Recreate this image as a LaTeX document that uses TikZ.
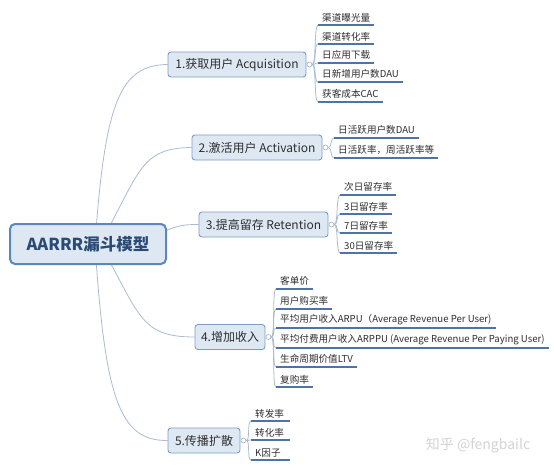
\documentclass[tikz,border=0pt]{standalone}
\usepackage{fontspec}
\newfontfamily\cjk{Noto Sans CJK SC}
\usetikzlibrary{backgrounds}
\definecolor{boxfill}{HTML}{DEE8F3}
\definecolor{boxline}{HTML}{7C9DC7}
\definecolor{rootline}{HTML}{5B86BE}
\definecolor{roottext}{HTML}{2B4A75}
\definecolor{connc}{HTML}{A9BCD2}
\definecolor{ulinec}{HTML}{4F74A3}
\definecolor{txt}{HTML}{2E2E2E}
\definecolor{wm}{HTML}{D4D4D4}
\begin{document}
\begin{tikzpicture}[x=1pt,y=-1pt,
  rootbox/.style={draw=rootline, line width=2pt, fill=boxfill, rounded corners=5pt, minimum width=156pt, minimum height=40pt, font=\cjk\bfseries\fontsize{16.5}{18}\selectfont, text=roottext, inner sep=0pt},
  topic/.style={draw=boxline, line width=0.9pt, fill=boxfill, rounded corners=3pt, minimum height=25pt, inner sep=0pt, font=\cjk\fontsize{12}{14}\selectfont, text=txt},
  leaf/.style={anchor=south west, inner xsep=4pt, inner ysep=3pt, font=\cjk\fontsize{9.6}{11}\selectfont, text=txt},
  uline/.style={draw=ulinec, line width=1.4pt},
  conn/.style={draw=connc, line width=0.8pt},
  knob/.style={circle, draw=connc, fill=white, line width=0.7pt, minimum size=5pt, inner sep=0pt}
]
\useasboundingbox (0,0) rectangle (554,469);

% root and topics
\node[rootbox] (root) at (88,244) {AARRR漏斗模型};
\node[topic, minimum width=138pt] (n1) at (237,64.5) {1.获取用户 Acquisition};
\node[topic, minimum width=130pt] (n2) at (257,147.5) {2.激活用户 Activation};
\node[topic, minimum width=129pt] (n3) at (263.5,224.5) {3.提高留存 Retention};
\node[topic, minimum width=70pt] (n4) at (230,337) {4.增加收入};
\node[topic, minimum width=72pt] (n5) at (204,440.5) {5.传播扩散};

% root connectors
\begin{scope}[on background layer]
\fill[white] (0,0) rectangle (554,469);
\draw[conn] ([xshift=7pt]root.center) .. controls (105,102) and (120,65) .. (n1.west);
\draw[conn] ([xshift=12pt]root.center) .. controls (140,172) and (140,148) .. (n2.west);
\draw[conn] ([xshift=62pt,yshift=6pt]root.center) .. controls (175,226) and (180,224.5) .. (n3.west);
\draw[conn] ([xshift=12pt]root.center) .. controls (140,315) and (140,337) .. (n4.west);
\draw[conn] ([xshift=7pt]root.center) .. controls (105,400) and (120,441) .. (n5.west);
\end{scope}

% knobs
\node[knob] (k1) at ([xshift=3pt]n1.east) {};
\node[knob] (k2) at ([xshift=3pt]n2.east) {};
\node[knob] (k3) at ([xshift=3pt]n3.east) {};
\node[knob] (k4) at ([xshift=3pt]n4.east) {};
\node[knob] (k5) at ([xshift=3pt]n5.east) {};

% leaves of 1
\node[leaf] (a1) at (318,25) {渠道曝光量};
\node[leaf] (a2) at (318,44) {渠道转化率};
\node[leaf] (a3) at (318,63) {日应用下载};
\node[leaf] (a4) at (318,82) {日新增用户数DAU};
\node[leaf] (a5) at (318,102) {获客成本CAC};
\foreach \n in {a1,a2,a3,a4,a5}{
  \draw[conn] (k1.east) .. controls +(4,0) and +(-4,0) .. (\n.south west);
  \draw[uline] (\n.south west) -- (\n.south east);
}

% leaves of 2
\node[leaf] (b1) at (334,138) {日活跃用户数DAU};
\node[leaf] (b2) at (334,158) {日活跃率，周活跃率等};
\foreach \n in {b1,b2}{
  \draw[conn] (k2.east) .. controls +(4,0) and +(-4,0) .. (\n.south west);
  \draw[uline] (\n.south west) -- (\n.south east);
}

% leaves of 3
\node[leaf] (c1) at (340,195) {次日留存率};
\node[leaf] (c2) at (340,214) {3日留存率};
\node[leaf] (c3) at (340,233) {7日留存率};
\node[leaf] (c4) at (340,253) {30日留存率};
\foreach \n in {c1,c2,c3,c4}{
  \draw[conn] (k3.east) .. controls +(4,0) and +(-4,0) .. (\n.south west);
  \draw[uline] (\n.south west) -- (\n.south east);
}

% leaves of 4
\node[leaf] (d1) at (276,289) {客单价};
\node[leaf] (d2) at (276,309) {用户购买率};
\node[leaf] (d3) at (276,328) {平均用户收入ARPU（Average Revenue Per User)};
\node[leaf] (d4) at (276,348) {平均付费用户收入ARPPU (Average Revenue Per Paying User)};
\node[leaf] (d5) at (276,367) {生命周期价值LTV};
\node[leaf] (d6) at (276,387) {复购率};
\foreach \n in {d1,d2,d3,d4,d5,d6}{
  \draw[conn] (k4.east) .. controls +(4,0) and +(-4,0) .. (\n.south west);
  \draw[uline] (\n.south west) -- (\n.south east);
}

% leaves of 5
\node[leaf, minimum width=39pt, align=left, text width=31pt] (e1) at (251,421) {转发率};
\node[leaf, minimum width=39pt, align=left, text width=31pt] (e2) at (251,440) {转化率};
\node[leaf, minimum width=39pt, align=left, text width=31pt] (e3) at (251,460) {K因子};
\foreach \n in {e1,e2,e3}{
  \draw[conn] (k5.east) .. controls +(4,0) and +(-4,0) .. (\n.south west);
  \draw[uline] (\n.south west) -- (\n.south east);
}

% watermark
\node[font=\cjk\fontsize{14}{16}\selectfont, text=wm] (wmk) at (478,445) {知乎 @fengbailc};
\end{tikzpicture}
\end{document}
